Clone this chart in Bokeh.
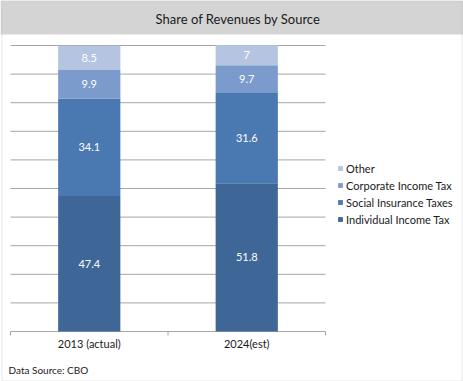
from bokeh.plotting import figure
from bokeh.models import (ColumnDataSource, Grid, Legend, LegendItem, Label, BoxAnnotation, Range1d)
from bokeh.core.properties import value
from bokeh.embed import file_html
from bokeh.resources import INLINE

# ---- data ----
categories = ["2013 (actual)", "2024(est)"]
series = ["Individual Income Tax", "Social Insurance Taxes", "Corporate Income Tax", "Other"]
individual = [47.4, 51.8]
social = [34.1, 31.6]
corporate = [9.9, 9.7]
other = [8.5, 7.0]
y_ticks = [0, 10, 20, 30, 40, 50, 60, 70, 80, 90, 100]
colors = ["#3e6797", "#4a78b1", "#7b9bcc", "#b5c4e1"]
title_text = "Share of Revenues by Source"
source_text = "Data Source: CBO"

# ---- layout constants (pixels) ----
W, H = 463, 381
PLOT_L, PLOT_R = 10, 325      # plot area left / right
PLOT_T, PLOT_B = 45, 331      # plot area top / bottom
FONT = "Lato"
TXT = "#1a1a1a"
GRID = "#a6a6a6"

values = [individual, social, corporate, other]
ncat = len(categories)
xs = [i + 0.5 for i in range(ncat)]
ymax = y_ticks[-1]

px_x = (PLOT_R - PLOT_L) / ncat          # pixels per x unit
px_y = (PLOT_B - PLOT_T) / ymax          # pixels per y unit

x_range = Range1d(-PLOT_L / px_x, (W - PLOT_L) / px_x)
y_range = Range1d(-(H - PLOT_B) / px_y, PLOT_B / px_y)

p = figure(width=W, height=H, x_range=x_range, y_range=y_range,
           x_axis_location=None, y_axis_location=None, toolbar_location=None,
           output_backend="svg", min_border=0, outline_line_color=None,
           background_fill_color="white", border_fill_color="white")
p.center = [c for c in p.center if not isinstance(c, Grid)]

# title band
p.add_layout(BoxAnnotation(left=0, right=W, top=H, bottom=H - 34,
                           left_units="screen", right_units="screen",
                           top_units="screen", bottom_units="screen",
                           fill_color="#d4d4d4", fill_alpha=1, line_color=None))
p.add_layout(Label(x=237.5, y=H - 18, x_units="screen", y_units="screen", text=title_text,
                   text_font=FONT, text_font_size="13px", text_align="center",
                   text_baseline="middle", text_color=TXT))

# horizontal grid lines (value axis, no labels)
p.segment(x0=[0] * len(y_ticks), x1=[ncat] * len(y_ticks), y0=y_ticks, y1=y_ticks,
          line_color=GRID, line_width=1)

# category axis: baseline, boundary ticks, labels
bounds = list(range(ncat + 1))
p.segment(x0=bounds, x1=bounds, y0=[0] * len(bounds), y1=[-4 / px_y] * len(bounds),
          line_color=GRID, line_width=1)
p.text(x=xs, y=[0] * ncat, text=categories, y_offset=12, text_align="center",
       text_baseline="middle", text_color=TXT, text_font=value(FONT), text_font_size="11px")

# stacked bars
src = ColumnDataSource(dict(x=xs, **{s: v for s, v in zip(series, values)}))
renderers = p.vbar_stack(series, x="x", width=0.395, color=colors, source=src, line_color=None)

# segment labels
lx, ly, lt = [], [], []
for i, x in enumerate(xs):
    base = 0.0
    for v in values:
        val = v[i]
        lx.append(x)
        ly.append(base + val / 2)
        lt.append(f"{val:g}")
        base += val
lab_src = ColumnDataSource(dict(x=lx, y=ly, t=lt))
p.text(x="x", y="y", text="t", source=lab_src, text_align="center", text_baseline="middle",
       text_color="white", text_font=value(FONT), text_font_size="11px")

# legend
items = [LegendItem(label=s, renderers=[r]) for s, r in zip(series, renderers)][::-1]
legend = Legend(items=items, location=(337, H - 227.5), glyph_width=6, glyph_height=6,
                label_height=17, label_standoff=3, spacing=0, padding=0, margin=0,
                border_line_color=None, background_fill_alpha=0,
                label_text_font=FONT, label_text_font_size="11px", label_text_color=TXT)
p.add_layout(legend)

# source note
p.add_layout(Label(x=8, y=H - 369, x_units="screen", y_units="screen", text=source_text,
                   text_font=FONT, text_font_size="10px", text_align="left",
                   text_baseline="middle", text_color=TXT))

# outer border
p.add_layout(BoxAnnotation(left=1.5, right=461.5, top=H - 0.5, bottom=0.5,
                           left_units="screen", right_units="screen",
                           top_units="screen", bottom_units="screen",
                           fill_color=None, line_color="#b4b4b4", line_width=1))

open("out.html", "w").write(file_html(p, INLINE))
